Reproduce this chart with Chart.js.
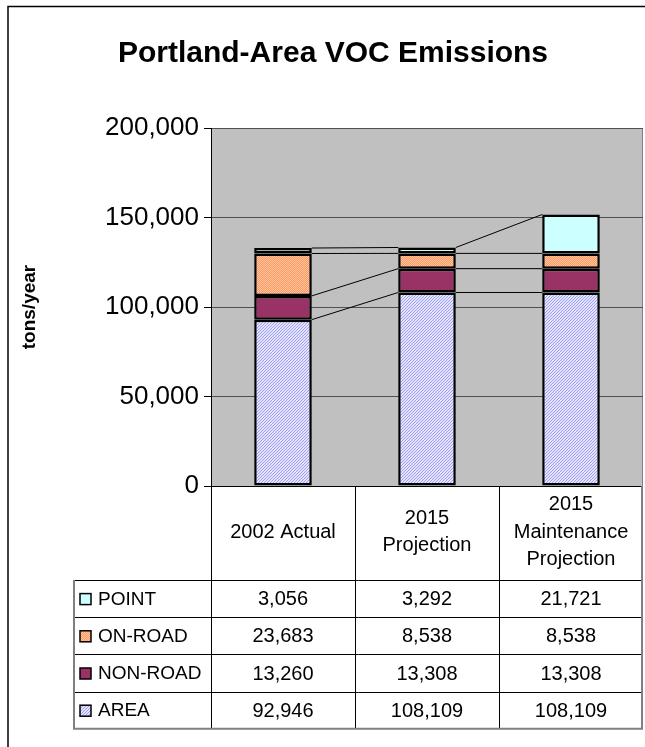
<!DOCTYPE html>
<html>
<head>
<meta charset="utf-8">
<script src="https://cdn.jsdelivr.net/npm/chart.js@4.4.1/dist/chart.umd.min.js"></script>
<style>
  html, body { margin: 0; padding: 0; background: #fff; overflow: hidden; }
  #wrap { width: 645px; height: 747px; }
  canvas { display: block; }
</style>
</head>
<body>
<div id="wrap"><canvas id="vocChart" width="645" height="747"></canvas></div>
<script>
const chartTitle = 'Portland-Area VOC Emissions';
const categories = [['2002 Actual'], ['2015', 'Projection'], ['2015', 'Maintenance', 'Projection']];
const seriesNames = ['AREA', 'NON-ROAD', 'ON-ROAD', 'POINT'];
const areaValues = [92946, 108109, 108109];
const nonRoadValues = [13260, 13308, 13308];
const onRoadValues = [23683, 8538, 8538];
const pointValues = [3056, 3292, 21721];
const yTicks = [0, 50000, 100000, 150000, 200000];

const FONT = '"Liberation Sans", Arial, sans-serif';

// hatch fills like the excel ones
function makePattern(w, h, draw) {
  const c = document.createElement('canvas');
  c.width = w; c.height = h;
  draw(c.getContext('2d'));
  return document.getElementById('vocChart').getContext('2d').createPattern(c, 'repeat');
}
const areaFill = makePattern(3, 3, function (p) {
  p.fillStyle = '#E4E4FF';
  p.fillRect(0, 0, 3, 3);
  p.fillStyle = '#9E9EF6';
  for (let i = 0; i < 3; i++) p.fillRect(i, 2 - i, 1, 1);
});
const onRoadFill = makePattern(2, 2, function (p) {
  p.fillStyle = '#FF9966';
  p.fillRect(0, 0, 2, 2);
  p.fillStyle = '#FFC499';
  p.fillRect(0, 0, 1, 1);
  p.fillRect(1, 1, 1, 1);
});
const fills = [areaFill, '#993366', onRoadFill, '#CCFFFF'];
const values = [areaValues, nonRoadValues, onRoadValues, pointValues];

const plotBackground = {
  id: 'plotBackground',
  beforeDraw(chart) {
    const { ctx, chartArea: a } = chart;
    ctx.save();
    ctx.fillStyle = '#fff';
    ctx.fillRect(0, 0, chart.width, chart.height);
    ctx.fillStyle = '#C0C0C0';
    ctx.fillRect(a.left, a.top, a.right - a.left, a.bottom - a.top);
    ctx.strokeStyle = '#808080';
    ctx.lineWidth = 1;
    ctx.beginPath();
    ctx.moveTo(a.left, a.top + 0.5);
    ctx.lineTo(a.right - 0.5, a.top + 0.5);
    ctx.lineTo(a.right - 0.5, a.bottom);
    ctx.stroke();
    // outer frame
    ctx.strokeStyle = '#000';
    ctx.lineWidth = 1.5;
    ctx.strokeRect(8, 6.5, chart.width + 40, chart.height + 40);
    // title
    ctx.fillStyle = '#000';
    ctx.font = 'bold 30px ' + FONT;
    ctx.textAlign = 'center';
    ctx.textBaseline = 'alphabetic';
    ctx.fillText(chartTitle, 333, 62);
    ctx.restore();
  }
};

// series lines between the stacked columns
const seriesLines = {
  id: 'seriesLines',
  afterDatasetsDraw(chart) {
    const ctx = chart.ctx;
    ctx.save();
    ctx.strokeStyle = '#000';
    ctx.lineWidth = 1;
    chart.data.datasets.forEach(function (ds, d) {
      const bars = chart.getDatasetMeta(d).data;
      for (let i = 0; i < bars.length - 1; i++) {
        const a = bars[i], b = bars[i + 1];
        ctx.beginPath();
        ctx.moveTo(a.x + a.width / 2, a.y);
        ctx.lineTo(b.x - b.width / 2, b.y);
        ctx.stroke();
      }
    });
    ctx.restore();
  }
};

// data table under the plot
const dataTable = {
  id: 'dataTable',
  afterDraw(chart) {
    const { ctx, chartArea: a } = chart;
    const xs = chart.scales.x;
    const colW = (a.right - a.left) / categories.length;
    const headTop = a.bottom;
    const headH = 94;
    const rowH = 37.2;
    const tableTop = headTop + headH;
    const tableBottom = tableTop + rowH * seriesNames.length;
    const legendLeft = 74;

    ctx.save();
    ctx.strokeStyle = '#000';
    ctx.lineWidth = 1;
    ctx.beginPath();
    for (let i = 0; i < categories.length; i++) {
      const x = Math.round(a.left + colW * i) + 0.5;
      ctx.moveTo(x, headTop);
      ctx.lineTo(x, tableBottom);
    }
    for (let r = 0; r < seriesNames.length; r++) {
      const y = Math.round(tableTop + rowH * r) + 0.5;
      ctx.moveTo(legendLeft, y);
      ctx.lineTo(a.right, y);
    }
    ctx.stroke();

    ctx.strokeStyle = '#808080';
    ctx.lineWidth = 2;
    ctx.beginPath();
    ctx.moveTo(legendLeft, tableTop);
    ctx.lineTo(legendLeft, tableBottom);
    ctx.lineTo(a.right - 1, tableBottom);
    ctx.lineTo(a.right - 1, headTop);
    ctx.stroke();

    ctx.fillStyle = '#000';
    ctx.font = '20px ' + FONT;
    ctx.textAlign = 'center';
    ctx.textBaseline = 'middle';
    categories.forEach(function (lines, i) {
      const cx = xs.getPixelForValue(i);
      const lh = 27.5;
      const y0 = headTop + headH / 2 - 1 - (lines.length - 1) * lh / 2;
      lines.forEach(function (t, k) { ctx.fillText(t, cx, y0 + k * lh); });
    });

    // rows top to bottom: last series first
    for (let r = 0; r < seriesNames.length; r++) {
      const s = seriesNames.length - 1 - r;
      const cy = tableTop + rowH * r + rowH / 2 + 1;
      ctx.font = '20px ' + FONT;
      ctx.textAlign = 'center';
      values[s].forEach(function (v, i) {
        ctx.fillText(v.toLocaleString('en-US'), xs.getPixelForValue(i), cy);
      });
      ctx.fillStyle = fills[s];
      ctx.fillRect(80, cy - 6, 11, 11);
      ctx.strokeStyle = '#000';
      ctx.lineWidth = 1.5;
      ctx.strokeRect(80, cy - 6, 11, 11);
      ctx.fillStyle = '#000';
      ctx.font = '19px ' + FONT;
      ctx.textAlign = 'left';
      ctx.fillText(seriesNames[s], 98, cy);
    }
    ctx.restore();
  }
};

new Chart(document.getElementById('vocChart'), {
  type: 'bar',
  data: {
    labels: categories,
    datasets: seriesNames.map(function (name, i) {
      return {
        label: name,
        data: values[i],
        backgroundColor: fills[i],
        borderColor: '#000',
        borderWidth: 2.5,
        borderSkipped: false,
        barPercentage: 0.4,
        categoryPercentage: 1
      };
    })
  },
  options: {
    responsive: false,
    devicePixelRatio: 1,
    animation: false,
    layout: { padding: { top: 128, left: 0, right: 2, bottom: 261 } },
    plugins: {
      legend: { display: false },
      title: { display: false },
      tooltip: { enabled: false }
    },
    scales: {
      x: {
        stacked: true,
        display: false
      },
      y: {
        stacked: true,
        min: 0,
        max: 200000,
        afterBuildTicks: function (scale) {
          scale.ticks = yTicks.map(function (v) { return { value: v }; });
        },
        afterFit: function (scale) { scale.width = 211; },
        ticks: {
          color: '#000',
          padding: 5,
          font: { family: FONT, size: 26 },
          callback: function (v) { return v.toLocaleString('en-US'); }
        },
        grid: {
          color: function (c) { return c.tick && c.tick.value === 0 ? '#000' : '#505050'; },
          tickColor: '#000',
          tickLength: 7,
          lineWidth: 1
        },
        border: { display: true, color: '#000', width: 1 },
        title: {
          display: true,
          text: 'tons/year',
          color: '#000',
          padding: { top: 18, bottom: 0 },
          font: { family: FONT, size: 19, weight: 'bold' }
        }
      }
    }
  },
  plugins: [plotBackground, seriesLines, dataTable]
});
</script>
</body>
</html>
